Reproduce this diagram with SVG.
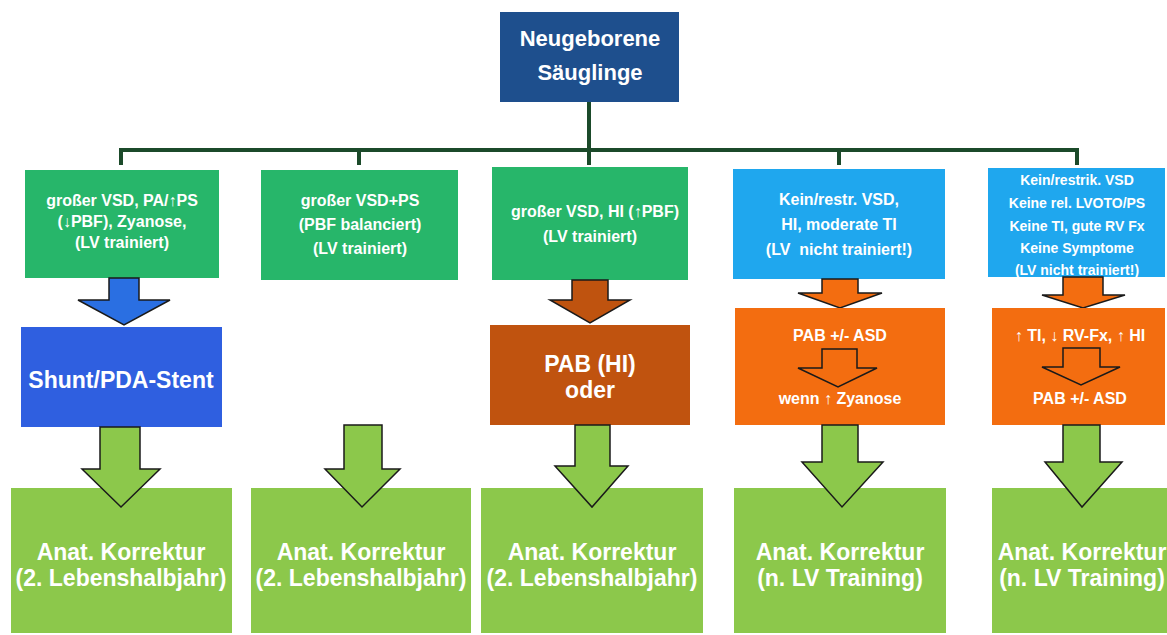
<svg xmlns="http://www.w3.org/2000/svg" width="1167" height="635" viewBox="0 0 1167 635">
<style>
text{font-family:"Liberation Sans",Arial,sans-serif;font-weight:bold;fill:#ffffff;text-anchor:middle}
.t14{font-size:14px}.t16{font-size:16px}.t22{font-size:22px}.t23{font-size:23px}
.arr{stroke:#1a1a1a;stroke-width:1.5;stroke-linejoin:miter}
.conn{stroke:#1b4a2a;stroke-width:4;fill:none}
</style>
<rect width="1167" height="635" fill="#ffffff"/>
<g id="connectors">
<path class="conn" d="M589,102 V150 M121,150 H1078 M121,148 V165 M359,148 V165 M589,148 V165 M839,148 V165 M1077,148 V165"/>
</g>
<g id="root">
<rect x="500" y="12" width="179" height="90" fill="#1e4f8d"/>
<text class="t22" x="590" y="46">Neugeborene</text>
<text class="t22" x="590" y="80">Säuglinge</text>
</g>
<g id="c1">
<rect x="25" y="170" width="194" height="108" fill="#27b66a"/>
<text class="t16" x="122" y="206">großer VSD, PA/↑PS</text>
<text class="t16" x="122" y="227">(↓PBF), Zyanose,</text>
<text class="t16" x="122" y="248">(LV trainiert)</text>
</g>
<g id="c2">
<rect x="261" y="170" width="197" height="110" fill="#27b66a"/>
<text class="t16" x="360" y="206">großer VSD+PS</text>
<text class="t16" x="360" y="230">(PBF balanciert)</text>
<text class="t16" x="360" y="254">(LV trainiert)</text>
</g>
<g id="c3">
<rect x="492" y="167" width="196" height="113" fill="#27b66a"/>
<text class="t16" x="595" y="217">großer VSD, HI (↑PBF)</text>
<text class="t16" x="590" y="242">(LV trainiert)</text>
</g>
<g id="c4">
<rect x="733" y="169" width="212" height="110" fill="#1fa7ee"/>
<text class="t16" x="839" y="205">Kein/restr. VSD,</text>
<text class="t16" x="839" y="230">HI, moderate TI</text>
<text class="t16" x="839" y="255" xml:space="preserve">(LV  nicht trainiert!)</text>
</g>
<g id="c5">
<rect x="988" y="168" width="177" height="109" fill="#1fa7ee"/>
<text class="t14" x="1077" y="185">Kein/restrik. VSD</text>
<text class="t14" x="1077" y="208">Keine rel. LVOTO/PS</text>
<text class="t14" x="1077" y="231">Keine TI, gute RV Fx</text>
<text class="t14" x="1077" y="253">Keine Symptome</text>
<text class="t14" x="1077" y="275">(LV nicht trainiert!)</text>
</g>
<g id="a1"><polygon class="arr" fill="#2a6fe2" points="109,278 139,278 139,300 170,300 124,325 78,300 109,300"/></g>
<g id="a3"><polygon class="arr" fill="#bf530f" points="572,280 608,280 608,300 630,300 590,323 550,300 572,300"/></g>
<g id="a4"><polygon class="arr" fill="#f36d10" points="822,279 858,279 858,293 882,293 840,308 798,293 822,293"/></g>
<g id="a5"><polygon class="arr" fill="#f36d10" points="1063,277 1103,277 1103,295 1125,295 1083,308 1042,295 1063,295"/></g>
<g id="s1">
<rect x="21" y="327" width="201" height="100" fill="#2f5fe0"/>
<text class="t23" x="121" y="388">Shunt/PDA-Stent</text>
</g>
<g id="s3">
<rect x="490" y="325" width="200" height="100" fill="#c0530f"/>
<text class="t23" x="590" y="372">PAB (HI)</text>
<text class="t23" x="590" y="398">oder</text>
</g>
<g id="s4">
<rect x="735" y="308" width="210" height="117" fill="#f36d10"/>
<text class="t16" x="840" y="341">PAB +/- ASD</text>
<polygon class="arr" fill="#f36d10" points="822,349 857,349 857,368 877,368 838,387 798,368 822,368"/>
<text class="t16" x="840" y="404">wenn ↑ Zyanose</text>
</g>
<g id="s5">
<rect x="992" y="308" width="173" height="117" fill="#f36d10"/>
<text class="t16" x="1080" y="341">↑ TI, ↓ RV-Fx, ↑ HI</text>
<polygon class="arr" fill="#f36d10" points="1063,348 1100,348 1100,367 1120,367 1081,385 1042,367 1063,367"/>
<text class="t16" x="1080" y="404">PAB +/- ASD</text>
</g>
<g id="b1">
<rect x="11" y="488" width="221" height="145" fill="#8cc84b"/>
<text class="t23" x="121" y="560">Anat. Korrektur</text>
<text class="t23" x="121" y="586">(2. Lebenshalbjahr)</text>
</g>
<g id="b2">
<rect x="251" y="488" width="220" height="145" fill="#8cc84b"/>
<text class="t23" x="361" y="560">Anat. Korrektur</text>
<text class="t23" x="361" y="586">(2. Lebenshalbjahr)</text>
</g>
<g id="b3">
<rect x="481" y="488" width="222" height="145" fill="#8cc84b"/>
<text class="t23" x="592" y="560">Anat. Korrektur</text>
<text class="t23" x="592" y="586">(2. Lebenshalbjahr)</text>
</g>
<g id="b4">
<rect x="734" y="488" width="212" height="145" fill="#8cc84b"/>
<text class="t23" x="840" y="560">Anat. Korrektur</text>
<text class="t23" x="840" y="586">(n. LV Training)</text>
</g>
<g id="b5">
<rect x="992" y="488" width="175" height="145" fill="#8cc84b"/>
<text class="t23" x="1082" y="560">Anat. Korrektur</text>
<text class="t23" x="1082" y="586">(n. LV Training)</text>
</g>
<g id="g-arrows">
<polygon class="arr" fill="#8cc84b" points="100,427 140,427 140,469 160,469 121,507 82,469 100,469"/>
<polygon class="arr" fill="#8cc84b" points="344,425 382,425 382,469 400,469 362,507 325,469 344,469"/>
<polygon class="arr" fill="#8cc84b" points="575,425 610,425 610,466 628,466 592,507 555,466 575,466"/>
<polygon class="arr" fill="#8cc84b" points="822,425 858,425 858,462 883,462 842,507 802,462 822,462"/>
<polygon class="arr" fill="#8cc84b" points="1063,425 1100,425 1100,462 1122,462 1082,507 1045,462 1063,462"/>
</g>
</svg>
